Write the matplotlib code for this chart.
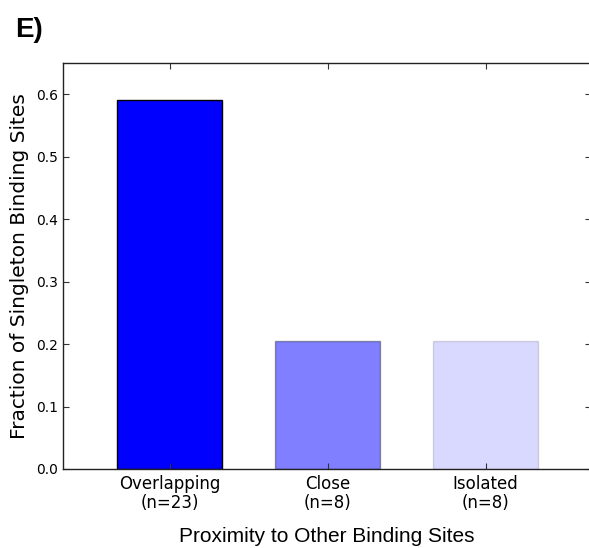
import matplotlib
matplotlib.use("Agg")
import matplotlib.pyplot as plt

categories = ["Overlapping\n(n=23)", "Close\n(n=8)", "Isolated\n(n=8)"]
values = [0.590, 0.205, 0.205]
alphas = [1.0, 0.5, 0.15]
yticks = [0.0, 0.1, 0.2, 0.3, 0.4, 0.5, 0.6]

fig = plt.figure(figsize=(5.89, 5.48), dpi=100)
ax = fig.add_axes([63/589, (548-469)/548, (591-63)/589, (469-63)/548])

x = list(range(len(categories)))
for xi, v, a in zip(x, values, alphas):
    ax.bar(xi, v, width=0.667, color=(0, 0, 1, a), edgecolor=(0, 0, 0, a * 0.6 + 0.05 if a < 1 else 1.0), linewidth=1.0)

ax.set_xlim(-0.674, 2.667)
ax.set_ylim(0, 0.65)
ax.set_yticks(yticks)
ax.set_yticklabels([f"{t:.1f}" for t in yticks], fontsize=10, family="DejaVu Sans")
ax.set_xticks(x)
ax.set_xticklabels(categories, fontsize=12, family="DejaVu Sans", linespacing=1.1)
ax.tick_params(direction="in", length=4, width=0.8, top=True, right=True, color="#333333")
ax.tick_params(axis="x", pad=4)
for s in ax.spines.values():
    s.set_linewidth(1.0)
    s.set_color("#222222")
ax.set_ylabel("Fraction of Singleton Binding Sites", fontsize=14.5, family="DejaVu Sans", labelpad=5)
ax.set_xlabel("Proximity to Other Binding Sites", fontsize=15, family="Liberation Sans", labelpad=11)
fig.text(15/589, 1 - 37/548, "E)", fontsize=20, fontweight="bold", family="Liberation Sans")

fig.savefig("out.png", dpi=100)
